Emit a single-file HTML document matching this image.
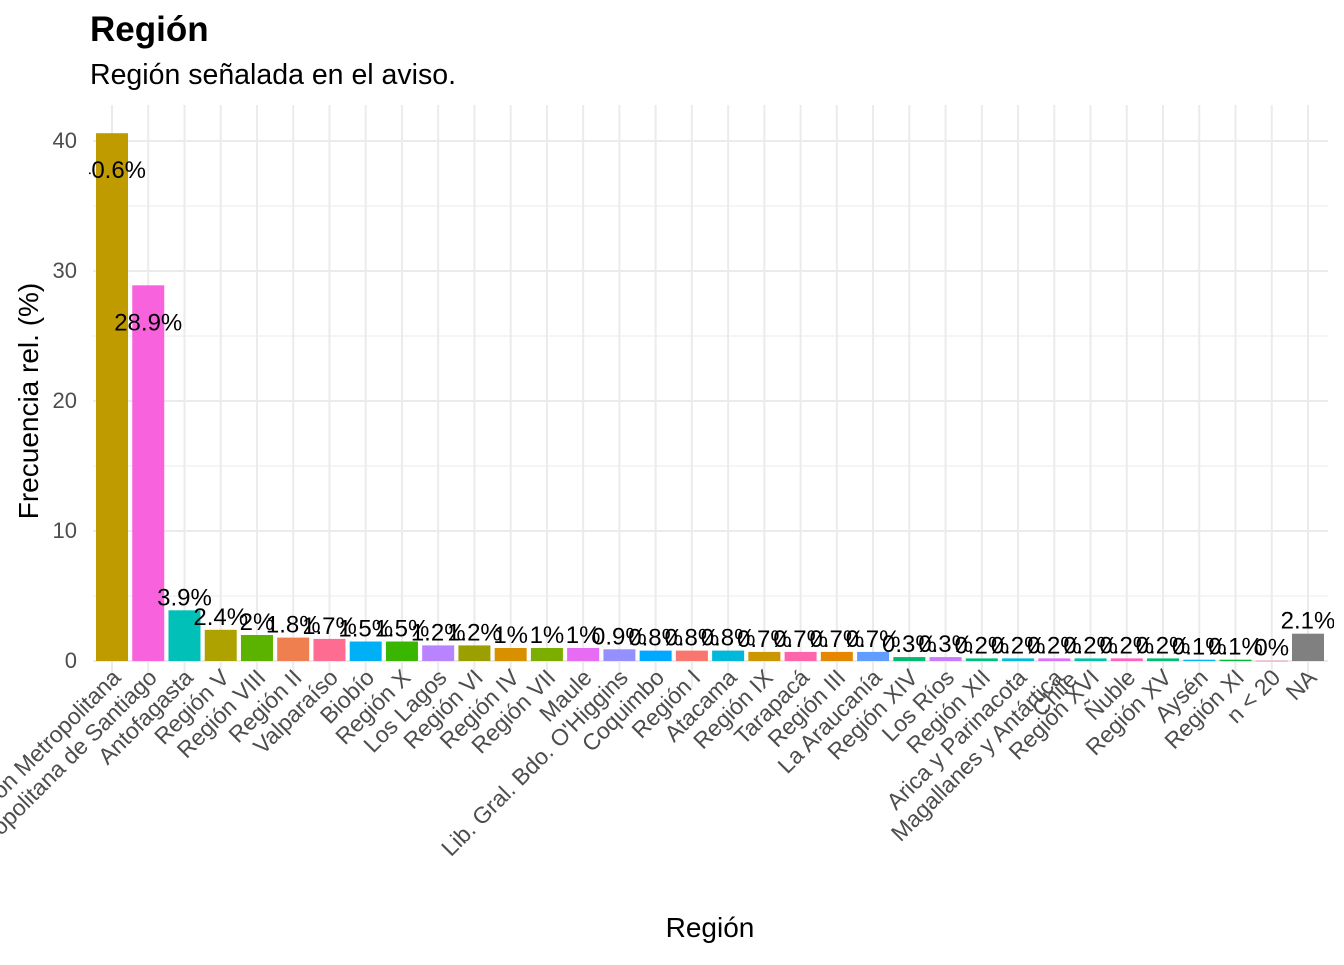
<!DOCTYPE html>
<html><head><meta charset="utf-8"><style>
body{margin:0;background:#fff;font-family:"Liberation Sans",sans-serif}
</style></head><body>
<svg id="chart" width="1344" height="960" xmlns="http://www.w3.org/2000/svg" font-family="Liberation Sans, sans-serif">
<defs><clipPath id="pc"><rect x="89" y="100" width="1245" height="580"/></clipPath></defs>
<text x="90" y="41" font-size="35" font-weight="bold" fill="#000">Región</text>
<text x="90" y="84" font-size="28.5" fill="#000">Región señalada en el aviso.</text>
<g id="grid"></g>
<g id="bars"></g>
<g id="labels" clip-path="url(#pc)"></g>
<g id="xticks"></g>
<g id="yticks"></g>
<text transform="translate(38,401) rotate(-90)" text-anchor="middle" font-size="28" fill="#000">Frecuencia rel. (%)</text>
<text x="710" y="937" text-anchor="middle" font-size="28" fill="#000">Región</text>
</svg>
<script>
const categories=["Región Metropolitana","Región Metropolitana de Santiago","Antofagasta","Región V","Región VIII","Región II","Valparaíso","Biobío","Región X","Los Lagos","Región VI","Región IV","Región VII","Maule","Lib. Gral. Bdo. O'Higgins","Coquimbo","Región I","Atacama","Región IX","Tarapacá","Región III","La Araucanía","Región XIV","Los Ríos","Región XII","Arica y Parinacota","Magallanes y Antártica","Región XVI","Ñuble","Región XV","Aysén","Región XI","n < 20","NA"];
const values=[40.6,28.9,3.9,2.4,2.0,1.8,1.7,1.5,1.5,1.2,1.2,1.0,1.0,1.0,0.9,0.8,0.8,0.8,0.7,0.7,0.7,0.7,0.3,0.3,0.2,0.2,0.2,0.2,0.2,0.2,0.1,0.1,0.02,2.1];
const valueLabels=["40.6%","28.9%","3.9%","2.4%","2%","1.8%","1.7%","1.5%","1.5%","1.2%","1.2%","1%","1%","1%","0.9%","0.8%","0.8%","0.8%","0.7%","0.7%","0.7%","0.7%","0.3%","0.3%","0.2%","0.2%","0.2%","0.2%","0.2%","0.2%","0.1%","0.1%","0%","2.1%"];
const colors=["#C09B00","#F962DD","#00C0B8","#ADA200","#5BB300","#F07F50","#FF6C91","#00B0F6","#39B600","#B983FF","#9BA000","#D89000","#7CAE00","#E76BF3","#9590FF","#00A9FF","#F8766D","#00B8DA","#CC9600","#FF65AC","#E58700","#619CFF","#00BA6E","#C77CFF","#00BF7D","#00BCD8","#DB72FB","#00C0A5","#FF61C3","#00BE70","#00B4EF","#00BA38","#FF6699","#808080"];
const yTicks=[0,10,20,30,40];
const NS="http://www.w3.org/2000/svg";
const x0=112, step=(1308-112)/33, bw=32;
const xs=i=>x0+i*step;
const ys=v=>661-v*13;
function mk(tag,attrs,parent,txt){const e=document.createElementNS(NS,tag);for(const k in attrs)e.setAttribute(k,attrs[k]);if(txt!==undefined)e.textContent=txt;document.getElementById(parent).appendChild(e);return e;}
for(let v=5;v<45;v+=10){const l=mk('line',{x1:93,x2:1328,y1:ys(v),y2:ys(v),stroke:'#ebebeb','stroke-width':1},'grid');

}
yTicks.forEach(v=>{const l=mk('line',{x1:93,x2:1328,y1:ys(v),y2:ys(v),stroke:'#ebebeb','stroke-width':2},'grid');


const t=mk('text',{x:77,y:ys(v)+7,'text-anchor':'end','font-size':22,fill:'#4d4d4d'},'yticks',String(v));

});
categories.forEach((c,i)=>{const l=mk('line',{x1:xs(i),x2:xs(i),y1:105,y2:687,stroke:'#ebebeb','stroke-width':2},'grid');


const v=values[i];
const b=mk('rect',{x:xs(i)-bw/2,y:ys(v),width:bw,height:Math.max(661-ys(v),0.6),fill:colors[i]},'bars');


const ly=v>10?ys(v)+45:ys(v)-5;
const t=mk('text',{x:xs(i),y:ly,'text-anchor':'middle','font-size':24,fill:'#000'},'labels',valueLabels[i]);


const xt=mk('text',{transform:`translate(${xs(i)+10},${679}) rotate(-45)`,'text-anchor':'end','font-size':23,fill:'#4d4d4d'},'xticks',c);

});
const ch=mk('text',{transform:`translate(${xs(27)-12},${681}) rotate(-45)`,'text-anchor':'end','font-size':23,fill:'#4d4d4d'},'xticks','Chile');


</script>
</body></html>
